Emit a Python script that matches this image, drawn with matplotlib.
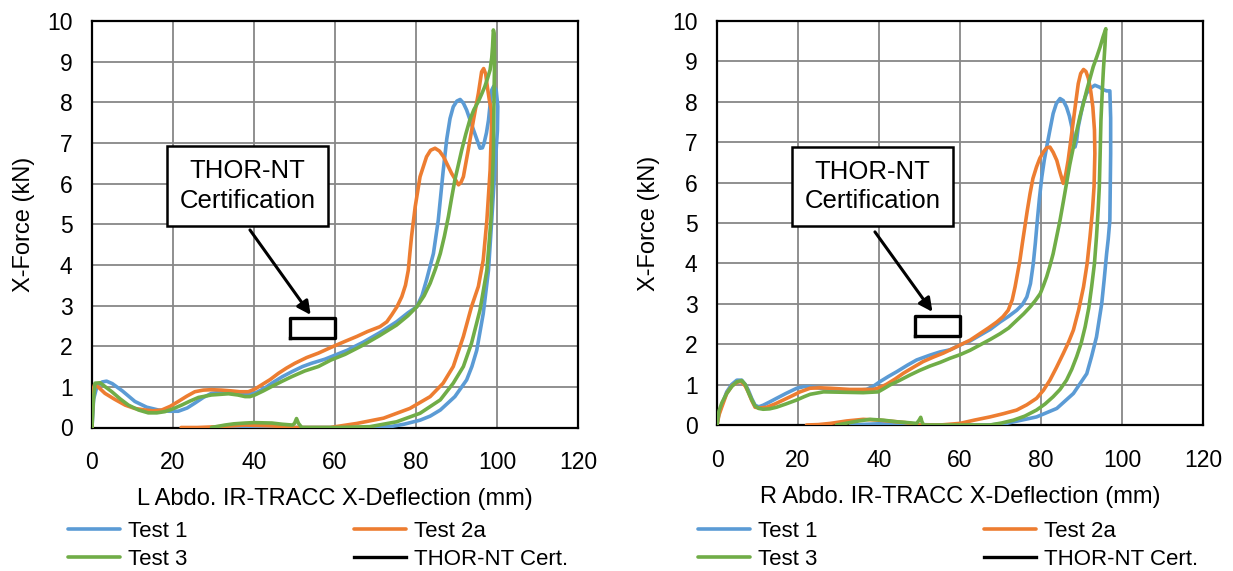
import matplotlib
matplotlib.use("Agg")
import matplotlib.pyplot as plt

plt.rcParams['font.family'] = ['Liberation Sans', 'DejaVu Sans']

# ---------------- data: left panel ----------------
L_t1_x = [0, 0.4, 1.2, 2.5, 3.6, 5, 7.5, 10.6, 13.5, 16.4, 19, 21.3, 23.5, 25.4, 27.5, 29.5, 32.8, 35.5, 37.8, 40.2,
          42.5, 44.4, 47, 49.3, 52, 54.2, 57.5, 60, 63, 67, 71, 75.2, 78, 80.2, 81.5, 82.6, 84.3, 85.5, 86.7, 87.6,
          88.4, 89.2, 90.1, 90.9, 91.7, 92.5, 94.2, 95.8, 96.4, 96.8, 97.4, 97.9, 98.3, 98.7, 99.2, 99.8, 100.2, 100.1,
          99.5, 98.7, 97.9, 96.6, 95, 93.8, 92.5, 89.6, 86, 83.5, 81, 77, 73.6, 68, 60, 50, 45, 40, 36, 33]
L_t1_y = [0, 0.7, 1.0, 1.12, 1.14, 1.08, 0.9, 0.64, 0.5, 0.43, 0.4, 0.4, 0.48, 0.6, 0.74, 0.84, 0.88, 0.86, 0.82, 0.84,
          0.96, 1.09, 1.25, 1.37, 1.5, 1.58, 1.68, 1.78, 1.9, 2.1, 2.33, 2.6, 2.82, 2.97, 3.25, 3.63, 4.28, 5.1, 6.3, 7.1,
          7.6, 7.89, 8.03, 8.07, 7.98, 7.81, 7.32, 6.87, 6.88, 6.99, 7.25, 7.56, 7.95, 8.3, 8.4, 8.3, 7.9, 7.3,
          6.4, 5.1, 3.87, 2.8, 1.9, 1.5, 1.17, 0.76, 0.43, 0.28, 0.18, 0.08, 0.02, 0.0, 0.0, 0.0, 0.02, 0.03, 0.0, 0.0]

L_t2_x = [0, 0.2, 0.6, 1.5, 3.2, 5.5, 8.2, 10.5, 13.1, 15, 17.2, 19.3, 21.3, 23.4, 25.4, 27.5, 29.5, 32, 34.5, 36.5,
          38.6, 40.3, 41.9, 44, 46, 48, 50.1, 53, 55.9, 59, 62.5, 65.4, 68, 71.1, 72.8, 74, 75.3, 76.5, 77.4, 78.1,
          78.5, 78.9, 79.8, 81, 82.6, 83.6, 84.7, 85.8, 86.8, 88.8, 90.5, 91.1, 91.7, 92.9, 94.2, 95.4, 96.2, 96.7,
          97.2, 97.6, 98.1, 98.6, 98.7, 98.3, 97.5, 96.6, 95.4, 93.7, 91.7, 89.2, 86.7, 83.5, 78.5, 72, 65.4, 58.8,
          50, 44.4, 37.8, 31.2, 26, 22]
L_t2_y = [0, 0.9, 1.05, 1.0, 0.84, 0.7, 0.55, 0.47, 0.43, 0.41, 0.43, 0.52, 0.64, 0.77, 0.88, 0.92, 0.93, 0.92, 0.9, 0.88,
          0.88, 0.95, 1.05, 1.18, 1.33, 1.46, 1.58, 1.72, 1.83, 1.97, 2.12, 2.24, 2.36, 2.48, 2.6, 2.77, 2.97, 3.22, 3.5, 3.87,
          4.3, 4.7, 5.43, 6.17, 6.66, 6.82, 6.87, 6.8, 6.66, 6.25, 5.97, 6.03, 6.17, 6.83, 7.57, 8.22, 8.75, 8.83,
          8.7, 8.39, 8.06, 7.8, 7.57, 6.33, 5.1, 4.12, 3.47, 2.97, 2.24, 1.5, 1.09, 0.76, 0.47, 0.23, 0.1, 0.0,
          0.0, 0.04, 0.06, 0.02, 0.0, 0.0]

L_t3_x = [0, 0.3, 0.74, 2, 3.3, 4.9, 7, 9, 11.5, 13.9, 16, 18, 20, 22.1, 24.2, 26.3, 29.5, 33.7, 36, 37.8, 39, 40.2,
          42.3, 44.4, 47, 49.3, 52.5, 55.9, 59, 62.5, 67, 71, 75.2, 78, 80.2, 82, 83.5, 84.8, 86, 87, 88, 88.8, 89.6,
          90.5, 91.3, 92.3, 93.3, 94.3, 95.4, 96.2, 97, 97.7, 98.3, 98.7, 98.9, 99.1, 99.3, 99.4, 99.3, 99.1, 98.5,
          97.5, 95.8, 93.7, 91.7, 89.2, 86, 81, 75.2, 68.6, 60, 51.8, 51, 50.5, 50, 49.5, 47, 44.4, 40, 37.8, 35,
          32.8, 29.5]
L_t3_y = [0, 0.6, 1.09, 1.1, 1.0, 0.88, 0.7, 0.55, 0.43, 0.36, 0.36, 0.39, 0.46, 0.55, 0.65, 0.74, 0.8, 0.83, 0.8, 0.76,
          0.76, 0.8, 0.9, 1.01, 1.14, 1.25, 1.39, 1.5, 1.66, 1.8, 2.03, 2.26, 2.52, 2.75, 2.97, 3.24, 3.55, 3.9, 4.28,
          4.7, 5.19, 5.65, 6.09, 6.48, 6.83, 7.22, 7.57, 7.82, 8.02, 8.2, 8.39, 8.6, 8.8, 9.1, 9.37, 9.78, 9.7, 9.0,
          8.4, 6.74, 5.1, 3.87, 2.89, 2.07, 1.5, 1.09, 0.68, 0.35, 0.14, 0.02, 0.0, 0.0, 0.1, 0.22, 0.1, 0.06, 0.08,
          0.11, 0.12, 0.11, 0.09, 0.06, 0.0]

# ---------------- data: right panel ----------------
R_t1_x = [0, 0.5, 1.2, 2.4, 3.6, 4.9, 6.1, 7, 7.7, 8.6, 9.4, 10.3, 11.4, 13, 14.7, 17, 19.7, 21.5, 23, 25, 27.9, 32.8,
          36.9, 38.6, 40.2, 42.3, 44.4, 47, 49.3, 52.6, 55.1, 57.5, 60, 62.5, 64.9, 67.5, 69.9, 72, 74, 75.4, 76.5,
          77.4, 78.1, 78.6, 79.1, 79.6, 80.2, 80.8, 81.4, 82.2, 83.0, 83.8, 84.7, 85.5, 86.3, 87, 87.6, 88.0, 88.4,
          88.8, 89.2, 90.4, 91.2, 92.1, 93.3, 94.5, 95.4, 96.2, 97.0, 97.2, 97.2, 97.0, 96.6, 96.2, 95.6, 95, 93.7,
          92.5, 91.3, 88, 83.9, 78.9, 71.5, 67.4, 55, 45, 40, 35, 33]
R_t1_y = [0, 0.3, 0.5, 0.82, 1.0, 1.11, 1.11, 1.0, 0.87, 0.65, 0.49, 0.45, 0.49, 0.57, 0.66, 0.78, 0.91, 0.95, 0.95, 0.92,
          0.87, 0.85, 0.88, 0.96, 1.07, 1.2, 1.32, 1.48, 1.61, 1.73, 1.81, 1.86, 1.98, 2.08, 2.22, 2.37, 2.55, 2.69,
          2.84, 2.98, 3.17, 3.5, 4.0, 4.5, 5.07, 5.6, 6.14, 6.55, 6.88, 7.3, 7.71, 7.96, 8.08, 8.03, 7.87, 7.65, 7.38,
          7.1, 6.88, 7.05, 7.38, 7.96, 8.2, 8.33, 8.41, 8.36, 8.3, 8.27, 8.27, 7.6, 6.72, 5.07, 4.6, 4.24, 3.6, 3.01,
          2.18, 1.7, 1.27, 0.78, 0.41, 0.2, 0.04, 0.0, 0.0, 0.02, 0.03, 0.01, 0.0]

R_t2_x = [0, 0.5, 1.2, 2.4, 3.8, 5.3, 6.1, 7, 7.7, 8.6, 9.4, 10.5, 12.3, 14.3, 16.4, 18.5, 20.5, 23, 25.5, 27.9, 32.8,
          38.6, 40.3, 41.9, 44, 46, 48.5, 50.9, 53.4, 55.9, 58, 60, 62.5, 64.9, 67, 69.1, 70.6, 71.9, 72.9, 73.6, 74.2,
          74.8, 75.4, 76, 76.6, 77.3, 78, 78.9, 79.7, 80.6, 81.4, 82.2, 83.0, 83.9, 84.7, 85.5, 86.1, 86.7, 87.3, 88,
          88.6, 89.2, 89.8, 90.5, 91.1, 91.7, 92.3, 92.8, 93.2, 93.3, 93.1, 92.7, 92.1, 91.4, 90.5, 89.3, 88, 86.8,
          85.5, 83.8, 82.2, 80.6, 78.9, 76.5, 74, 70.7, 67.4, 63.5, 60, 55.1, 50, 46.5, 44.4, 40, 36.1, 32, 28, 25, 22.1]
R_t2_y = [0, 0.25, 0.45, 0.78, 0.98, 1.07, 1.07, 0.96, 0.82, 0.6, 0.44, 0.42, 0.44, 0.52, 0.62, 0.72, 0.82, 0.91, 0.92,
          0.91, 0.88, 0.88, 0.93, 1.01, 1.14, 1.28, 1.43, 1.57, 1.68, 1.78, 1.88, 1.98, 2.1, 2.26, 2.4, 2.55, 2.68, 2.84,
          3.1, 3.42, 3.75, 4.08, 4.5, 4.9, 5.3, 5.73, 6.1, 6.39, 6.6, 6.76, 6.86, 6.88, 6.75, 6.55, 6.25, 5.98, 6.2,
          6.55, 7.0, 7.54, 8.0, 8.45, 8.7, 8.8, 8.75, 8.58, 8.25, 7.87, 7.3, 6.72, 5.9, 5.3, 4.66, 4.0, 3.42, 2.85,
          2.35, 2.05, 1.77, 1.42, 1.11, 0.86, 0.66, 0.5, 0.37, 0.28, 0.2, 0.12, 0.04, 0.0, 0.0, 0.06, 0.08, 0.12, 0.14,
          0.1, 0.04, 0.01, 0.0]

R_t3_x = [0, 0.5, 1.2, 2.4, 3.6, 4.9, 6.1, 7, 7.7, 8.6, 9.4, 10.3, 11.4, 13, 14.7, 17, 19.7, 21.5, 23, 26.3, 31.2, 36.1,
          39.8, 41.2, 42.7, 45, 47.7, 50, 52.6, 55.1, 57.5, 60, 62.5, 64.9, 67.5, 69.9, 72, 74, 75.7, 77.3, 78.6, 79.8,
          80.6, 81.4, 82.2, 83, 83.8, 84.7, 85.5, 86.3, 87.1, 88, 88.8, 89.6, 90.5, 91.3, 92.1, 92.9, 93.8, 94.6, 95.3,
          96, 95.8, 95.4, 95.1, 94.8, 94.6, 94.4, 94.1, 93.7, 93.2, 92.5, 91.8, 90.9, 89.9, 88.8, 87.6, 86.3, 84.7, 83,
          81, 78.9, 76, 73.2, 70.3, 67.4, 60, 51, 50.6, 50.3, 49.9, 49.3, 47, 44.4, 41, 37.8, 35, 32.8, 29.5]
R_t3_y = [0, 0.35, 0.55, 0.78, 0.95, 1.07, 1.1, 1.0, 0.82, 0.62, 0.47, 0.41, 0.39, 0.4, 0.44, 0.52, 0.62, 0.7, 0.76, 0.82,
          0.81, 0.8, 0.82, 0.9, 0.99, 1.1, 1.24, 1.35, 1.46, 1.55, 1.65, 1.74, 1.85, 1.98, 2.12, 2.26, 2.4, 2.59, 2.75,
          2.92, 3.08, 3.25, 3.45, 3.67, 3.94, 4.24, 4.63, 5.07, 5.52, 5.98, 6.44, 6.88, 7.27, 7.63, 7.97, 8.29, 8.58,
          8.87, 9.12, 9.36, 9.6, 9.81, 9.4, 8.78, 8.2, 7.54, 6.7, 5.9, 5.3, 4.66, 4.0, 3.42, 2.9, 2.43, 2.02, 1.69,
          1.38, 1.11, 0.88, 0.7, 0.52, 0.37, 0.22, 0.12, 0.05, 0.0, 0.0, 0.0, 0.08, 0.19, 0.12, 0.04, 0.06, 0.08, 0.12,
          0.14, 0.1, 0.06, 0.0]

# THOR-NT certification corridor (same for both panels)
cert_x = [49, 60, 60, 49, 49]
cert_y = [2.2, 2.2, 2.7, 2.7, 2.2]

series_names = ["Test 1", "Test 2a", "Test 3", "THOR-NT Cert."]
series_colors = ["#5B9BD5", "#ED7D31", "#70AD47", "#000000"]

x_ticks = [0, 20, 40, 60, 80, 100, 120]
y_ticks = [0, 1, 2, 3, 4, 5, 6, 7, 8, 9, 10]

x_labels = ["L Abdo. IR-TRACC X-Deflection (mm)", "R Abdo. IR-TRACC X-Deflection (mm)"]
y_label = "X-Force (kN)"
annot_text = "THOR-NT\nCertification"

panels = [
    dict(data=[(L_t1_x, L_t1_y), (L_t2_x, L_t2_y), (L_t3_x, L_t3_y)],
         rect=[92 / 1233, 1 - 427.5 / 571, 486 / 1233, 406.5 / 571],
         text_xy=(38.4, 5.94), arrow_from=(39.0, 4.86), arrow_to=(54.0, 2.77),
         legend_anchor=(68 / 1233, 1 - 521 / 571)),
    dict(data=[(R_t1_x, R_t1_y), (R_t2_x, R_t2_y), (R_t3_x, R_t3_y)],
         rect=[717 / 1233, 1 - 425 / 571, 486 / 1233, 404 / 571],
         text_xy=(38.4, 5.9), arrow_from=(39.0, 4.78), arrow_to=(53.2, 2.8),
         legend_anchor=(698 / 1233, 1 - 521 / 571)),
]

FS_TICK = 16.5
FS_LAB = 17
FS_LEG = 16
FS_BOX = 18.5
fig = plt.figure(figsize=(12.33, 5.71), dpi=100)

for i, p in enumerate(panels):
    ax = fig.add_axes(p["rect"])
    handles = []
    for (xs, ys), name, col in zip(p["data"], series_names[:3], series_colors[:3]):
        h, = ax.plot(xs, ys, color=col, lw=2.6, label=name, solid_joinstyle='round',
                     solid_capstyle='round', zorder=3)
        handles.append(h)
    h, = ax.plot(cert_x, cert_y, color=series_colors[3], lw=2.4, label=series_names[3], zorder=4)
    handles.append(h)

    ax.set_xlim(0, 120)
    ax.set_ylim(0, 10)
    ax.set_xticks(x_ticks)
    ax.set_yticks(y_ticks)
    ax.grid(True, color="#878787", lw=1.3, zorder=0)
    ax.set_axisbelow(True)
    for s in ax.spines.values():
        s.set_color("black")
        s.set_linewidth(1.6)
    ax.tick_params(length=0, labelsize=FS_TICK)
    ax.tick_params(axis='x', pad=17)
    ax.tick_params(axis='y', pad=14)
    ax.set_xlabel(x_labels[i], fontsize=FS_LAB, labelpad=10)
    ax.set_ylabel(y_label, fontsize=FS_LAB, labelpad=9)

    ax.annotate("", xy=p["arrow_to"], xytext=p["arrow_from"],
                arrowprops=dict(arrowstyle="-|>", color="black", lw=2.2, mutation_scale=20,
                                shrinkA=0, shrinkB=0), zorder=5)
    ax.text(p["text_xy"][0], p["text_xy"][1], annot_text, fontsize=FS_BOX, ha="center", va="center",
            linespacing=1.3, zorder=6,
            bbox=dict(boxstyle="square,pad=0.5", fc="white", ec="black", lw=1.8))

    order = [0, 2, 1, 3]
    fig.legend([handles[k] for k in order], [series_names[k] for k in order],
               loc="upper left", bbox_to_anchor=p["legend_anchor"], ncol=2, frameon=False,
               fontsize=FS_LEG, handlelength=2.35, handletextpad=0.35, columnspacing=7.5,
               labelspacing=0.32, borderaxespad=0, borderpad=0)

fig.savefig("out.png", dpi=100)
